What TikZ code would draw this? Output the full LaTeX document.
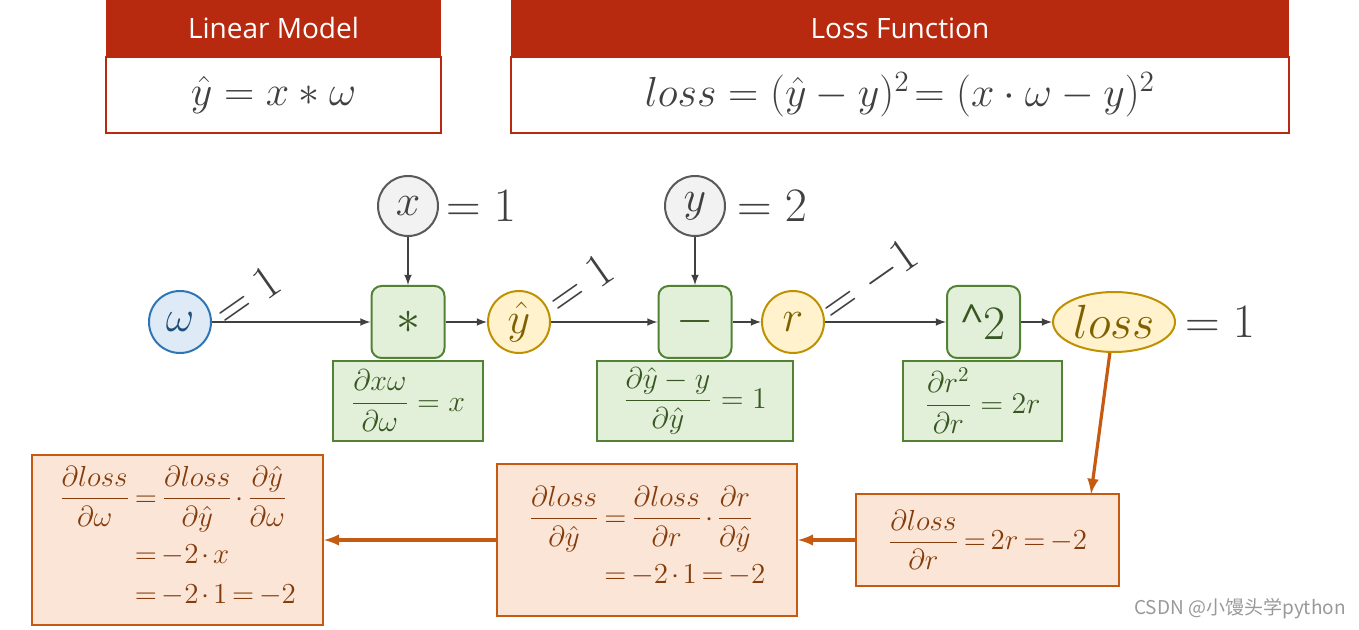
\RequirePackage{fix-cm}
\documentclass[tikz,border=0pt]{standalone}
\usepackage{amsmath}
\usepackage{fontspec}
\newfontfamily\headfont{Open Sans}
\newfontfamily\cjkfont{Noto Sans CJK SC}
\usepackage{xcolor}
\usepackage{tikz}
\usetikzlibrary{shapes,arrows,positioning}
\usetikzlibrary{shapes.geometric}

\definecolor{hdred}{RGB}{184,42,16}
\definecolor{dgray}{RGB}{64,64,64}
\definecolor{cgray}{RGB}{89,89,89}
\definecolor{lgray}{RGB}{242,242,242}
\definecolor{wblue}{RGB}{46,117,182}
\definecolor{wfill}{RGB}{222,235,247}
\definecolor{wtext}{RGB}{31,78,121}
\definecolor{yline}{RGB}{191,144,0}
\definecolor{yfill}{RGB}{255,242,204}
\definecolor{ytext}{RGB}{127,96,0}
\definecolor{gline}{RGB}{84,130,53}
\definecolor{gfill}{RGB}{226,240,217}
\definecolor{gtext}{RGB}{56,87,35}
\definecolor{oline}{RGB}{197,90,17}
\definecolor{ofill}{RGB}{251,229,214}
\definecolor{otext}{RGB}{132,60,12}
\newcommand\tightmath{\thickmuskip=3mu\relax\medmuskip=2mu\relax}

\begin{document}
\begin{tikzpicture}[x=0.5pt,y=-0.5pt,
	head/.style={fill=hdred,text=white,inner sep=0pt,minimum height=28.5pt,font=\headfont\fontsize{14}{16}\selectfont},
	body/.style={draw=hdred,fill=white,line width=1pt,inner sep=0pt,minimum height=38pt,text=dgray,font=\fontsize{21}{25}\selectfont},
	var/.style={circle,line width=1pt,inner sep=0pt,minimum size=31pt,font=\fontsize{22}{26}\selectfont},
	op/.style={draw=gline,fill=gfill,text=gtext,line width=1pt,rounded corners=5pt,inner sep=0pt,minimum width=36.5pt,minimum height=36pt,font=\fontsize{24}{28}\selectfont},
	grad/.style={draw=gline,fill=gfill,text=gtext,line width=1pt,inner sep=0pt,minimum height=40pt,font=\fontsize{15}{18}\selectfont},
	back/.style={draw=oline,fill=ofill,text=otext,line width=1pt,inner sep=0pt,font=\fontsize{14.5}{17}\selectfont\tightmath},
	val/.style={text=dgray,font=\fontsize{24}{28}\selectfont},
	fwd/.style={-latex,dgray,line width=0.75pt},
	bwd/.style={-latex,oline,line width=1.6pt}]
	\useasboundingbox (0,0) rectangle (1359,630);
	% model and loss
	\node[head,minimum width=167.5pt] (lmhead) at (273.5,28.5) {Linear Model};
	\node[body,minimum width=167.5pt] (lmbody) at (273.5,95) {$\hat{y}=x*\omega$};
	\node[head,minimum width=389pt] (lfhead) at (900,28.5) {Loss Function};
	\node[body,minimum width=389pt] (lfbody) at (900,95) {$loss=(\hat{y}-y)^2\!=(x\cdot\omega-y)^2$};
	% forward graph
	\node[var,draw=wblue,fill=wfill,text=wtext] (w) at (180,322) {$\omega$};
	\node[var,draw=cgray,fill=lgray,text=dgray,minimum size=30pt] (x) at (408,206) {$x$};
	\node[op] (mul) at (408,322) {$*$};
	\node[var,draw=yline,fill=yfill,text=ytext] (yh) at (519,322) {$\hat{y}$};
	\node[var,draw=cgray,fill=lgray,text=dgray,minimum size=30pt] (y) at (695,206) {$y$};
	\node[op] (sub) at (695,322) {$-$};
	\node[var,draw=yline,fill=yfill,text=ytext] (r) at (793,322) {$r$};
	\node[op] (sq) at (983.5,322) {{\headfont\fontsize{20}{24}\selectfont\raisebox{3pt}{\textasciicircum}}2};
	\node[ellipse,draw=yline,fill=yfill,text=ytext,line width=1pt,inner sep=0pt,minimum width=61pt,minimum height=30pt,font=\fontsize{24}{28}\selectfont] (loss) at (1114,322) {$loss$};
	% values
	\node[val,right=0pt of x] (xval) {$=1$};
	\node[val,right=2pt of y] (yval) {$=2$};
	\node[val,right=1pt of loss] (lossval) {$=1$};
	\node[val,rotate=35] (wval) at (247,296) {$=1$};
	\node[val,rotate=35] (yhval) at (580,284) {$=1$};
	\node[val,rotate=35] (rval) at (870,282) {$=-1$};
	% local gradients
	\node[grad,minimum width=75pt] (dmul) at (408,401) {$\dfrac{\partial x\omega}{\partial\omega}=x$};
	\node[grad,minimum width=98pt] (dsub) at (695,401) {$\dfrac{\partial\hat{y}-y}{\partial\hat{y}}=1$};
	\node[grad,minimum width=79.5pt] (dsq) at (982.5,401) {$\dfrac{\partial r^2}{\partial r}=2r$};
	% backward
	\node[back,minimum width=131.5pt,minimum height=46pt] (dr) at (987.5,540) {$\dfrac{\partial loss}{\partial r}=2r=-2$};
	\node[back,minimum width=150pt,minimum height=76pt] (dyh) at (647,540) {$\begin{aligned}\dfrac{\partial loss}{\partial\hat{y}}&=\dfrac{\partial loss}{\partial r}\cdot\dfrac{\partial r}{\partial\hat{y}}\\&=-2\cdot1=-2\end{aligned}$};
	\node[back,minimum width=145.5pt,minimum height=85pt] (dw) at (177.5,540) {$\begin{aligned}\dfrac{\partial loss}{\partial\omega}&=\dfrac{\partial loss}{\partial\hat{y}}\cdot\dfrac{\partial\hat{y}}{\partial\omega}\\&=-2\cdot x\\&=-2\cdot1=-2\end{aligned}$};
	\coordinate (drtop) at (1091,494);
	% connectors
	\draw[fwd] (w) -- (mul);
	\draw[fwd] (x) -- (mul);
	\draw[fwd] (mul) -- (yh);
	\draw[fwd] (yh) -- (sub);
	\draw[fwd] (y) -- (sub);
	\draw[fwd] (sub) -- (r);
	\draw[fwd] (r) -- (sq);
	\draw[fwd] (sq) -- (loss);
	\draw[bwd] (loss) -- (drtop);
	\draw[bwd] (dr) -- (dyh);
	\draw[bwd] (dyh) -- (dw);
	\node[text=gray!80,font=\cjkfont\fontsize{9.5}{11}\selectfont] (mark) at (1240,609) {CSDN @小馒头学python};
\end{tikzpicture}
\end{document}
